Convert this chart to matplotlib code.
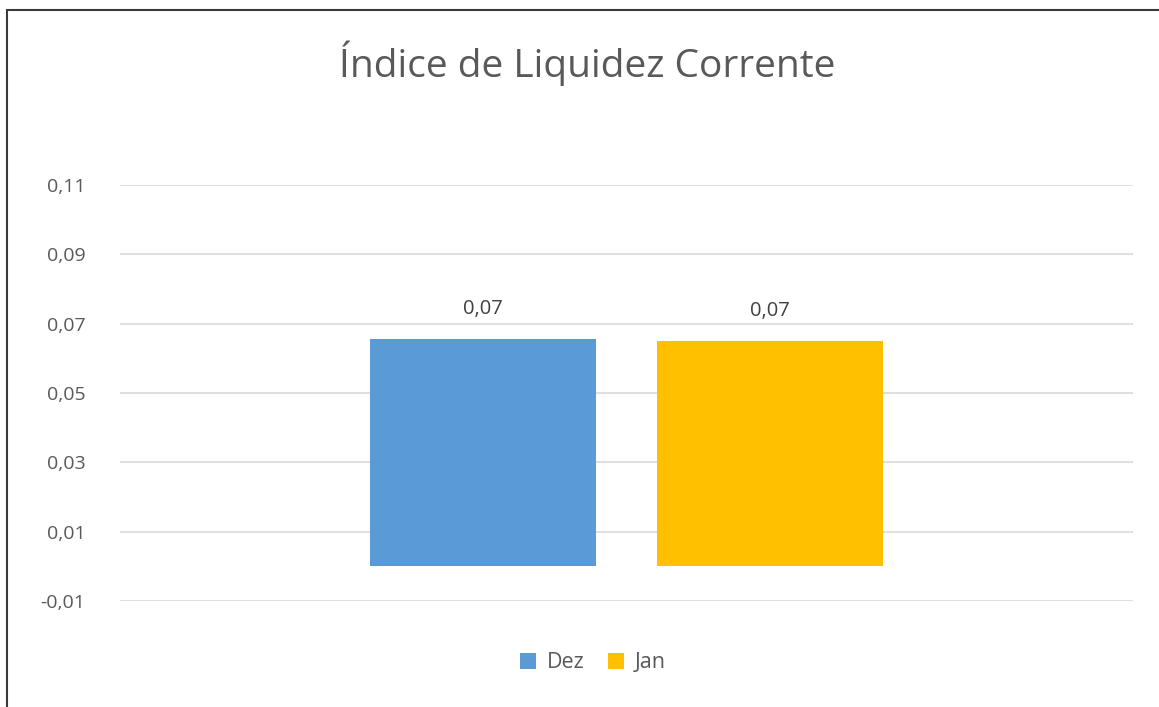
import matplotlib.pyplot as plt
from matplotlib.patches import Rectangle
from matplotlib.ticker import FixedLocator, FuncFormatter

plt.rcParams['font.family'] = ['Open Sans', 'DejaVu Sans']

# Data
series = ['Dez', 'Jan']
values = [0.0656, 0.0650]
colors = ['#5B9BD5', '#FFC000']
yticks = [-0.01, 0.01, 0.03, 0.05, 0.07, 0.09, 0.11]

fig = plt.figure(figsize=(11.59, 7.07), dpi=100)
ax = fig.add_axes([120 / 1159, 1 - 601 / 707, 1013 / 1159, 416 / 707])

offsets = [-0.142, 0.142]
for name, val, col, off in zip(series, values, colors, offsets):
    ax.bar(off, val, width=0.223, color=col, label=name, zorder=3)
    ax.text(off, val + 0.0057, f'{val:.2f}'.replace('.', ','), ha='center', va='bottom',
            fontsize=14.5, color='#404040')

ax.set_xlim(-0.5, 0.5)
ax.set_ylim(-0.01, 0.11)
ax.yaxis.set_major_locator(FixedLocator(yticks))
ax.yaxis.set_major_formatter(FuncFormatter(lambda v, p: f'{v:.2f}'.replace('.', ',')))
ax.tick_params(axis='y', length=0, labelsize=14, labelcolor='#595959', pad=25)
ax.set_xticks([])
ax.grid(axis='y', color='#D9D9D9', linewidth=1.2, zorder=0)
for s in ax.spines.values():
    s.set_visible(False)

fig.text(587 / 1159, 1 - 63 / 707, 'Índice de Liquidez Corrente', ha='center', va='center',
         fontsize=28, color='#595959')

leg = fig.legend(loc='center', bbox_to_anchor=(593 / 1159, 1 - 663 / 707), ncol=2,
                 frameon=False, fontsize=15.5, handlelength=0.75, handleheight=0.75,
                 handletextpad=0.5, columnspacing=1.1)
for t in leg.get_texts():
    t.set_color('#595959')

# outer chart border
fig.patches.append(Rectangle((7 / 1159, -0.05), 1.0, 1.05 - 10 / 707, transform=fig.transFigure,
                             fill=False, edgecolor='#3A3A3A', linewidth=1.5))

fig.savefig('out.png', dpi=100, facecolor='white')
